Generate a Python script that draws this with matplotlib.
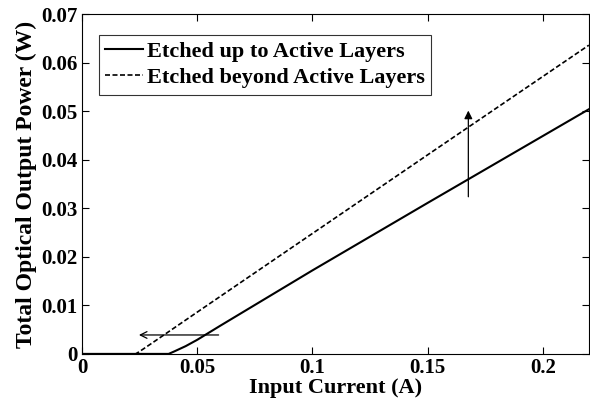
import matplotlib
matplotlib.use('Agg')
import matplotlib.pyplot as plt
import numpy as np

# data
current_up = [0, 0.0376, 0.040, 0.045, 0.050, 0.060, 0.10, 0.15, 0.22]
power_up = [0, 0, 0.0005, 0.0016, 0.0029, 0.0058, 0.0172, 0.0311, 0.0504]
current_beyond = [0, 0.0233, 0.025, 0.030, 0.05, 0.10, 0.15, 0.22]
power_beyond = [0, 0, 0.0005, 0.0021, 0.0086, 0.0248, 0.0410, 0.0636]

label_up = 'Etched up to Active Layers'
label_beyond = 'Etched beyond Active Layers'

xticks = [0, 0.05, 0.1, 0.15, 0.2]
xtick_labels = ['0', '0.05', '0.1', '0.15', '0.2']
yticks = [0, 0.01, 0.02, 0.03, 0.04, 0.05, 0.06, 0.07]
ytick_labels = ['0', '0.01', '0.02', '0.03', '0.04', '0.05', '0.06', '0.07']

plt.rcParams['font.family'] = ['Liberation Serif', 'DejaVu Serif']
plt.rcParams['font.weight'] = 'bold'

fig = plt.figure(figsize=(5.9, 4.04), dpi=100)
ax = fig.add_axes([0.139, 0.124, 0.859, 0.841])

ax.plot(current_up, power_up, color='black', lw=1.5, label=label_up)
ax.plot(current_beyond, power_beyond, color='black', lw=1.2, ls=(0, (3, 1.5)), label=label_beyond)

# arrows showing the shift
ax.annotate('', xy=(0.1677, 0.0507), xytext=(0.1677, 0.0318),
            arrowprops=dict(arrowstyle='-|>', color='black', lw=0.9, mutation_scale=12))
ax.annotate('', xy=(0.0235, 0.0039), xytext=(0.0605, 0.0039),
            arrowprops=dict(arrowstyle='->', color='black', lw=0.9, mutation_scale=12))

ax.set_xlim(0, 0.22)
ax.set_ylim(0, 0.07)
ax.set_xticks(xticks)
ax.set_xticklabels(xtick_labels)
ax.set_yticks(yticks)
ax.set_yticklabels(ytick_labels)
ax.tick_params(direction='in', top=True, right=True, length=5, labelsize=15, width=0.8, pad=3)
for s in ax.spines.values():
    s.set_linewidth(0.8)

ax.set_xlabel('Input Current (A)', fontsize=16, fontweight='bold', labelpad=0)
ax.set_ylabel('Total Optical Output Power (W)', fontsize=17, fontweight='bold', labelpad=3)

leg = ax.legend(loc='upper left', bbox_to_anchor=(0.033, 0.94), fontsize=16, frameon=True,
                fancybox=False, edgecolor='black', handlelength=1.7, handletextpad=0.15,
                borderpad=0.3, labelspacing=0.25, borderaxespad=0)
leg.get_frame().set_linewidth(0.8)
for t in leg.get_texts():
    t.set_fontweight('bold')

fig.savefig('out.png', dpi=100)
